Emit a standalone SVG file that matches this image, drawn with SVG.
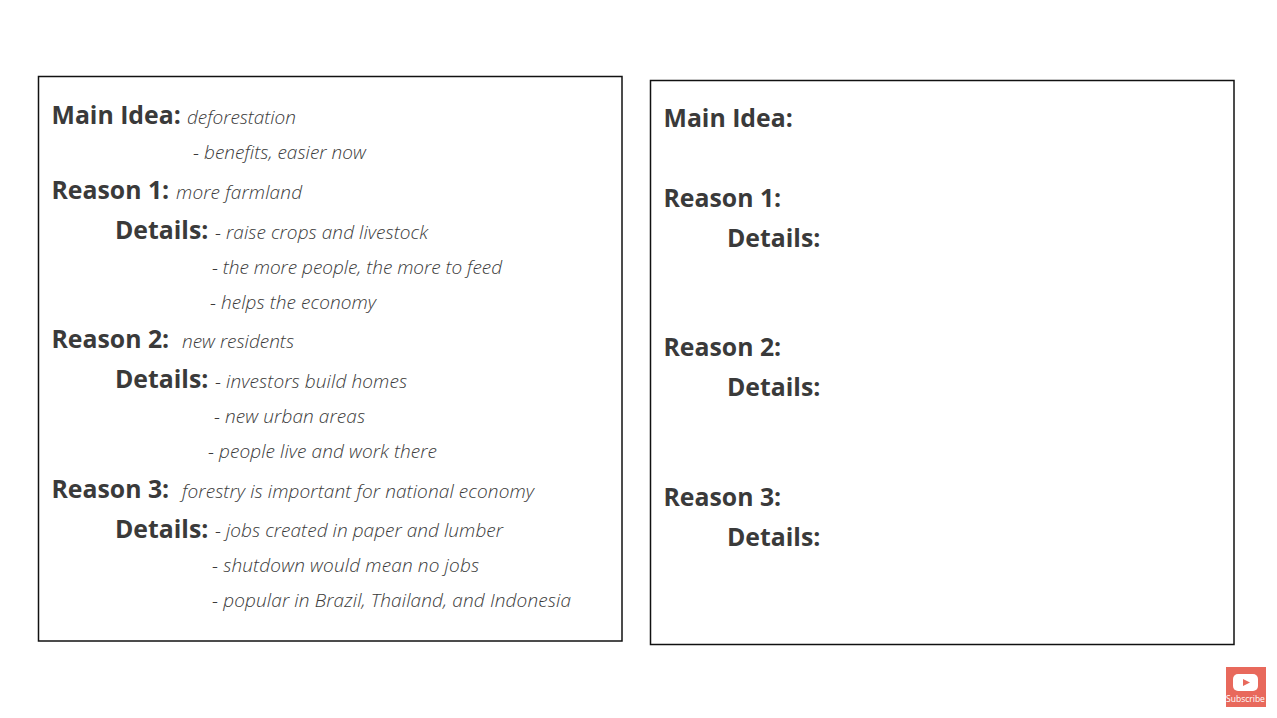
<svg xmlns="http://www.w3.org/2000/svg" width="1277" height="718" viewBox="0 0 1277 718">
<style>
.b{font-family:"Open Sans","Noto Sans",sans-serif;font-weight:700;font-size:24.800px;fill:#3a3a3a}
.i{font-family:"Open Sans","Noto Sans",sans-serif;font-weight:300;font-style:italic;font-size:19px;fill:#3a3a3a}
.box{fill:#fff;stroke:#111;stroke-width:1.500}
</style>
<rect width="1277" height="718" fill="#fff"/>
<g id="left-panel">
<rect class="box" x="38.500" y="76.500" width="583.500" height="564.500"/>
<text class="b" x="51.500" y="124">Main Idea:</text>
<text class="i" x="187" y="124" textLength="109">deforestation</text>
<text class="i" x="193" y="159" textLength="173">- benefits, easier now</text>
<text class="b" x="51.500" y="199">Reason 1:</text>
<text class="i" x="176" y="199" textLength="126">more farmland</text>
<text class="b" x="115" y="239">Details:</text>
<text class="i" x="215" y="239" textLength="213">- raise crops and livestock</text>
<text class="i" x="212" y="274" textLength="290">- the more people, the more to feed</text>
<text class="i" x="210" y="309" textLength="166">- helps the economy</text>
<text class="b" x="51.500" y="348.300">Reason 2:</text>
<text class="i" x="182" y="348" textLength="112">new residents</text>
<text class="b" x="115" y="388.300">Details:</text>
<text class="i" x="215" y="388" textLength="192">- investors build homes</text>
<text class="i" x="214" y="423" textLength="151">- new urban areas</text>
<text class="i" x="208" y="458" textLength="229">- people live and work there</text>
<text class="b" x="51.500" y="497.500">Reason 3:</text>
<text class="i" x="182" y="498" textLength="352">forestry is important for national economy</text>
<text class="b" x="115" y="537.500">Details:</text>
<text class="i" x="215" y="537" textLength="288">- jobs created in paper and lumber</text>
<text class="i" x="212" y="572" textLength="267">- shutdown would mean no jobs</text>
<text class="i" x="212" y="607" textLength="359">- popular in Brazil, Thailand, and Indonesia</text>
</g>
<g id="right-panel">
<rect class="box" x="650.500" y="80.500" width="583.500" height="564"/>
<text class="b" x="663.500" y="127">Main Idea:</text>
<text class="b" x="663.500" y="207">Reason 1:</text>
<text class="b" x="727" y="247">Details:</text>
<text class="b" x="663.500" y="356.300">Reason 2:</text>
<text class="b" x="727" y="396.300">Details:</text>
<text class="b" x="663.500" y="506">Reason 3:</text>
<text class="b" x="727" y="546">Details:</text>
</g>
<g id="subscribe">
<rect x="1226" y="667" width="40" height="40" fill="#e8695c"/>
<rect x="1233" y="674" width="25" height="17" rx="5" fill="#fff"/>
<path d="M1243 679l7 3.500-7 3.500z" fill="#e8695c"/>
<text x="1245.500" y="702" text-anchor="middle" font-family="Open Sans,sans-serif" font-size="8.500" fill="#fff">Subscribe</text>
</g>
</svg>
